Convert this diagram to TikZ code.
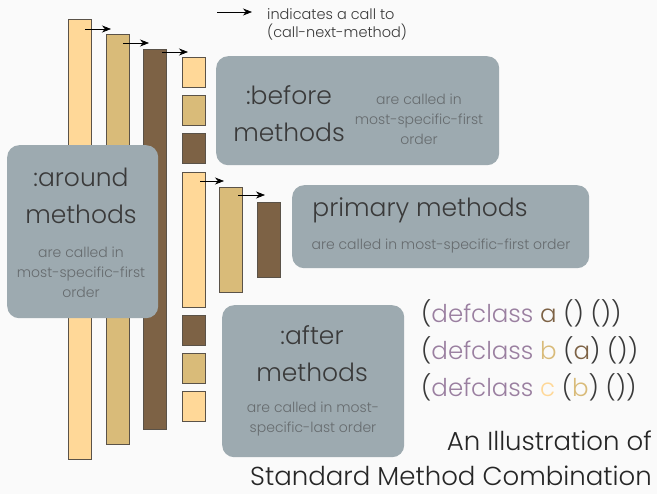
\documentclass[tikz,border=0pt]{standalone}
\usepackage{fontspec}
\IfFontExistsTF{Poppins Light}
  {\setmainfont{Poppins Light}}
  {\setmainfont{Poppins}}
\usepackage{tikz}
\usetikzlibrary{arrows.meta}
\usetikzlibrary{calc}
\usetikzlibrary{positioning}

\definecolor{clsa}{HTML}{7D6245}
\definecolor{clsb}{HTML}{D9BB79}
\definecolor{clsc}{HTML}{FFD898}
\definecolor{barline}{HTML}{5A5248}
\definecolor{boxgray}{HTML}{9DAAB0}
\definecolor{headgray}{HTML}{3A3A3A}
\definecolor{subgray}{HTML}{666B6E}
\definecolor{defpurple}{HTML}{9A7FA0}
\definecolor{paper}{HTML}{FAFAFA}

\begin{document}
\begin{tikzpicture}[
  x=1pt, y=-1pt,
	bar/.style={
	draw=barline,
	line width=0.6pt,
	inner sep=0pt,
	outer sep=0pt,
	anchor=north west,
	minimum width=23pt},
	bara/.style={bar, fill=clsa},
	barb/.style={bar, fill=clsb},
	barc/.style={bar, fill=clsc},
	infobox/.style={
	fill=boxgray,
	rounded corners=12pt,
	inner sep=0pt,
	anchor=north west},
	heading/.style={
	text=headgray,
	align=center,
	inner sep=0pt,
	font=\fontsize{25}{37}\selectfont},
	subtext/.style={
	text=subgray,
	align=center,
	inner sep=0pt,
	font=\fontsize{14}{20}\selectfont},
	codeline/.style={
	text=headgray,
	anchor=base west,
	inner sep=0pt,
	font=\fontsize{24.5}{25}\selectfont},
	callarrow/.style={
	-{Stealth[length=9pt, width=7pt]},
	line width=0.6pt
	}]

	% Page
	\useasboundingbox[fill=paper] (0,0) rectangle (657,494);

	% Around methods
	\node [barc, minimum height=440pt] at (68,19)  (arc) {};
	\node [barb, minimum height=410pt] at (106,34) (arb) {};
	\node [bara, minimum height=380pt] at (143,49) (ara) {};

	% Before methods
	\node [barc, minimum height=30pt] at (182,57)  (bfc) {};
	\node [barb, minimum height=30pt] at (182,95)  (bfb) {};
	\node [bara, minimum height=30pt] at (182,133) (bfa) {};

	% Primary methods
	\node [barc, minimum height=135pt] at (182,172) (prc) {};
	\node [barb, minimum height=105pt] at (219,187) (prb) {};
	\node [bara, minimum height=75pt]  at (257,202) (pra) {};

	% After methods
	\node [bara, minimum height=30pt] at (182,315) (afa) {};
	\node [barb, minimum height=30pt] at (182,353) (afb) {};
	\node [barc, minimum height=30pt] at (182,391) (afc) {};

	% Calls to the next method
	\draw[callarrow] ($(arc.north east)+(-6,10)$) -- ($(arb.north west)+(5,-5)$);
	\draw[callarrow] ($(arb.north east)+(-6,9)$)  -- ($(ara.north west)+(6,-6)$);
	\draw[callarrow] ($(ara.north east)+(-4,3)$)  -- ($(bfc.north west)+(6,-5)$);
	\draw[callarrow] ($(prc.north east)+(-5,9)$)  -- ($(prb.north west)+(5,-6)$);
	\draw[callarrow] ($(prb.north east)+(-4,8)$)  -- ($(pra.north west)+(8,-7)$);

	% Key
	\coordinate (keyfrom) at (217,12);
	\coordinate (keyto)   at (252,12);
	\draw[callarrow] (keyfrom) -- (keyto);
	\node [subtext, align=left, anchor=west, text=headgray, font=\fontsize{14.5}{18}\selectfont] at (267,24) (keytext) {indicates a call to\\(call-next-method)};

	% Boxes
	\node [infobox, minimum width=283pt, minimum height=109pt] at (216,56)  (beforebox) {};
	\node [infobox, minimum width=151pt, minimum height=173pt] at (7,145)   (aroundbox) {};
	\node [infobox, minimum width=297pt, minimum height=83pt]  at (292,185) (primarybox) {};
	\node [infobox, minimum width=182pt, minimum height=152pt] at (222,305) (afterbox) {};

	% Box texts
	\node [heading] at (289,114) (beforehead) {:before\\methods};
	\node [subtext] at (419,119) (beforesub) {are called in\\most-specific-first\\order};

	\node [heading] at (81,196) (aroundhead) {:around\\methods};
	\node [subtext] at (81,272) (aroundsub) {are called in\\most-specific-first\\order};

	\node [heading] at (420,210) (primaryhead) {primary methods};
	\node [subtext] at (441,246) (primarysub) {are called in most-specific-first order};

	\node [heading] at (312,354) (afterhead) {:after\\methods};
	\node [subtext] at (313,419) (aftersub) {are called in most-\\specific-last order};

	% Class definitions
	\node [codeline] at (421,323) (defa) {(\textcolor{defpurple}{defclass} \textcolor{clsa}{a} () ())};
	\node [codeline] at (421,360) (defb) {(\textcolor{defpurple}{defclass} \textcolor{clsb}{b} (\textcolor{clsa}{a}) ())};
	\node [codeline] at (421,397) (defc) {(\textcolor{defpurple}{defclass} \textcolor{clsc}{c} (\textcolor{clsb}{b}) ())};

	% Title
	\node [codeline, anchor=base east, text=black!85, font=\fontsize{26}{30}\selectfont] at (652,451) (title1) {An Illustration of};
	\node [codeline, anchor=base east, text=black!85, font=\fontsize{26}{30}\selectfont] at (652,486) (title2) {Standard Method Combination};

\end{tikzpicture}
\end{document}
